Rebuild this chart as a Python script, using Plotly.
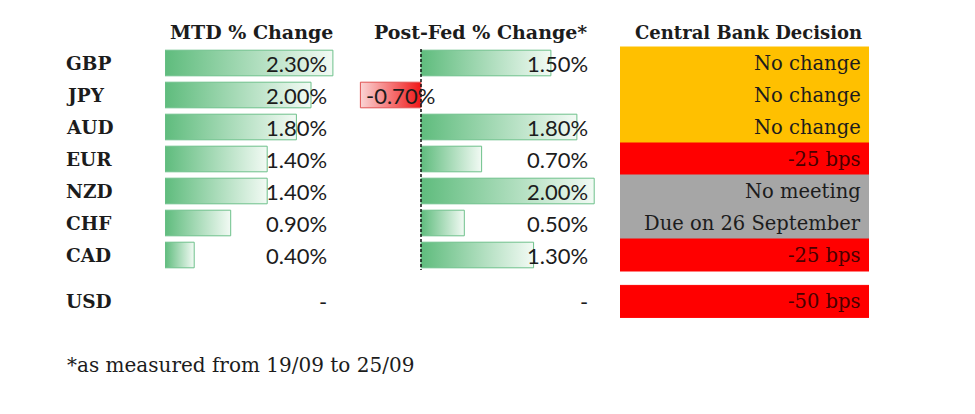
import plotly.graph_objects as go

# ---------------- data ----------------
currencies = ["GBP", "JPY", "AUD", "EUR", "NZD", "CHF", "CAD", "USD"]
mtd_change = [2.30, 2.00, 1.80, 1.40, 1.40, 0.90, 0.40, None]
postfed_change = [1.50, -0.70, 1.80, 0.70, 2.00, 0.50, 1.30, None]
decision_text = ["No change", "No change", "No change", "-25 bps",
                 "No meeting", "Due on 26 September", "-25 bps", "-50 bps"]
decision_class = ["hold", "hold", "hold", "cut", "none", "none", "cut", "cut"]
headers = ["MTD % Change", "Post-Fed % Change*", "Central Bank Decision"]
footnote = "*as measured from 19/09 to 25/09"

# ---------------- styling / layout ----------------
W, H = 975, 414
SERIF = "DejaVu Serif"
NUMF = "Lato"
TXT = "#1c1c1c"
ROW_PX = 32.0
FIRST_ROW_PX = 63.0
USD_GAP = 0.45          # extra spacing before the USD row (in rows)

class_fill = {"hold": "#FFC000", "cut": "#FF0000", "none": "#A6A6A6"}
class_text = {"hold": TXT, "cut": "#4a0000", "none": TXT}

green_scale = [[0, "#5FBC7D"], [1, "#F2FAF4"]]
green_line = "#6DC08A"
red_scale = [[0, "#FAD4D4"], [1, "#F01818"]]
red_line = "#E05050"


def pxx(p):
    return p / W


def pxy(p):
    return 1 - p / H


rows = [i + (USD_GAP if c == "USD" else 0) for i, c in enumerate(currencies)]

MTD_L, MTD_R, MTD_SCALE = 165, 340, 73.0
PF_L, PF_R, PF_ZERO, PF_SCALE = 352, 600, 421, 86.6
CB_L, CB_R = 620, 869

fig = go.Figure()

BAR_H = 0.4


def add_bar(val, r, axis):
    y0, y1 = r - BAR_H, r + BAR_H
    neg = val < 0
    fig.add_trace(go.Scatter(
        x=[0, val, val, 0, 0], y=[y0, y0, y1, y1, y0],
        mode="lines", fill="toself",
        fillgradient=dict(type="horizontal", colorscale=red_scale if neg else green_scale),
        line=dict(color=red_line if neg else green_line, width=1),
        hoverinfo="skip", showlegend=False, xaxis=axis, yaxis="y"))


for v, r in zip(mtd_change, rows):
    if v is not None:
        add_bar(v, r, "x")
for v, r in zip(postfed_change, rows):
    if v is not None:
        add_bar(v, r, "x2")

# central bank decision cells
fills = [class_fill[c] for c in decision_class]
fig.add_trace(go.Bar(
    orientation="h", y=rows, x=[1] * len(rows), base=0, width=1,
    marker=dict(color=fills, line=dict(color=fills, width=1)),
    hoverinfo="skip", showlegend=False, xaxis="x3", yaxis="y"))

annotations = []
# headers
for text, cx, fs in zip(headers, [251, 480, 748], [19, 19, 18]):
    annotations.append(dict(text=f"<b>{text}</b>", x=pxx(cx), y=pxy(32), xref="paper", yref="paper",
                            xanchor="center", yanchor="middle", showarrow=False,
                            font=dict(family=SERIF, size=fs, color=TXT)))
# row labels
for c, r in zip(currencies, rows):
    annotations.append(dict(text=f"<b>{c}</b>", x=pxx(64), y=r, xref="paper", yref="y",
                            xanchor="left", yanchor="middle", showarrow=False,
                            font=dict(family=SERIF, size=18.5, color=TXT)))


def fmt(v):
    return "-" if v is None else f"{v:.2f}%"


for v, r in zip(mtd_change, rows):
    annotations.append(dict(text=fmt(v), x=pxx(329), y=r, xref="paper", yref="y",
                            xanchor="right", yanchor="middle", showarrow=False,
                            font=dict(family=NUMF, size=22, color=TXT)))
for v, r in zip(postfed_change, rows):
    if v is not None and v < 0:
        annotations.append(dict(text=fmt(v), x=pxx(364), y=r, xref="paper", yref="y",
                                xanchor="left", yanchor="middle", showarrow=False,
                                font=dict(family=NUMF, size=22, color=TXT)))
    else:
        annotations.append(dict(text=fmt(v), x=pxx(590), y=r, xref="paper", yref="y",
                                xanchor="right", yanchor="middle", showarrow=False,
                                font=dict(family=NUMF, size=22, color=TXT)))
for t, c, r in zip(decision_text, decision_class, rows):
    annotations.append(dict(text=t, x=pxx(863), y=r, xref="paper", yref="y",
                            xanchor="right", yanchor="middle", showarrow=False,
                            font=dict(family=SERIF, size=19.5, color=class_text[c])))
# footnote
annotations.append(dict(text=footnote, x=pxx(65), y=pxy(365), xref="paper", yref="paper",
                        xanchor="left", yanchor="middle", showarrow=False,
                        font=dict(family=SERIF, size=20, color=TXT)))

last_bar_row = rows[currencies.index("CAD")]
fig.add_shape(type="line", xref="x2", yref="y", x0=0, x1=0,
              y0=-0.44, y1=last_bar_row + 0.47,
              line=dict(color="#111111", width=1.5, dash="3px,2px"))

ax_common = dict(visible=False, showgrid=False, zeroline=False, fixedrange=True)
fig.update_layout(
    width=W, height=H, margin=dict(l=0, r=0, t=0, b=0),
    paper_bgcolor="white", plot_bgcolor="rgba(0,0,0,0)",
    barmode="overlay",
    xaxis=dict(domain=[pxx(MTD_L), pxx(MTD_R)], range=[0, (MTD_R - MTD_L) / MTD_SCALE],
               anchor="y", **ax_common),
    xaxis2=dict(domain=[pxx(PF_L), pxx(PF_R)],
                range=[(PF_L - PF_ZERO) / PF_SCALE, (PF_R - PF_ZERO) / PF_SCALE],
                anchor="y", **ax_common),
    xaxis3=dict(domain=[pxx(CB_L), pxx(CB_R)], range=[0, 1], anchor="y", **ax_common),
    yaxis=dict(domain=[0, 1], range=[(H - FIRST_ROW_PX) / ROW_PX, -FIRST_ROW_PX / ROW_PX],
               anchor="x", **ax_common),
    annotations=annotations,
    showlegend=False,
)

fig.write_html("out.html")
